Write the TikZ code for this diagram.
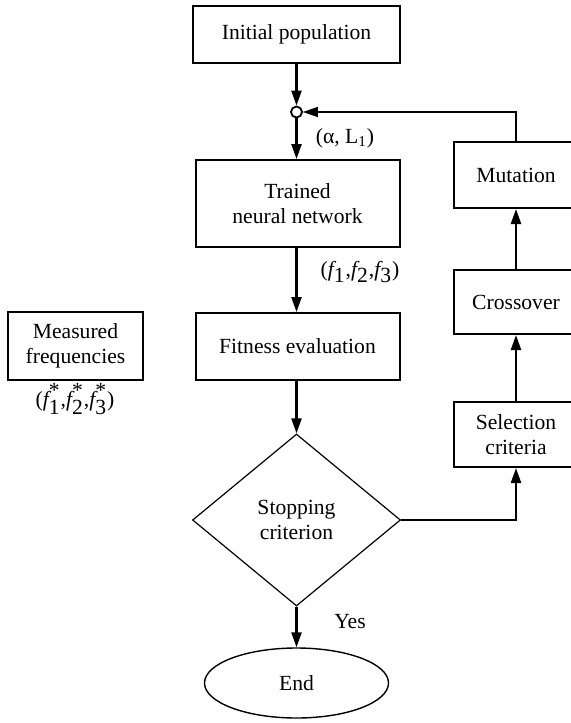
\documentclass[tikz,border=0pt]{standalone}
\usepackage{fontspec}
\setmainfont{Liberation Serif}
\usetikzlibrary{shapes.geometric,arrows.meta}
\tikzset{
  box/.style={draw, line width=1pt, fill=white, align=center, inner sep=0pt, font=\fontsize{10.8}{12.5}\selectfont},
  lbl/.style={inner sep=0pt, font=\fontsize{10.8}{12.5}\selectfont},
  arr/.style={-{Triangle[length=7.5pt,width=5pt]}, line width=1.15pt},
}
\newcommand{\fv}[2]{$\textit{f}_{\textrm{#1}}#2$}
\begin{document}
\begin{tikzpicture}[x=0.5pt,y=-0.5pt]
\useasboundingbox (0,0) rectangle (571,723);
\clip (0,0) rectangle (571,723);
\node[box, minimum width=103.5pt, minimum height=28.5pt] (init) at (296.5,34.5) {Initial population};
\node[draw, circle, line width=0.9pt, fill=white, minimum size=5.5pt, inner sep=0pt] (junc) at (296.5,112) {};
\node[box, minimum width=102pt, minimum height=43.5pt] (train) at (297.5,203.5) {Trained\\neural network};
\node[box, minimum width=102pt, minimum height=33.5pt] (fit) at (297.5,346.5) {Fitness evaluation};
\node[box, shape=diamond, line width=0.6pt, minimum width=104pt, minimum height=86pt] (stop) at (296.5,520) {Stopping\\criterion};
\node[box, shape=ellipse, line width=0.7pt, minimum width=92pt, minimum height=35pt] (end) at (296.5,683) {End};
\node[box, minimum width=67.5pt, minimum height=34pt] (meas) at (75.5,346) {Measured\\frequencies};
\node[lbl] (fstar) at (75,399) {(\fv{1}{^{\textrm{*}}},\fv{2}{^{\textrm{*}}},\fv{3}{^{\textrm{*}}})};
\node[box, minimum width=62pt, minimum height=33pt] (mut) at (516,175) {Mutation};
\node[box, minimum width=62pt, minimum height=32pt] (cross) at (516,302) {Crossover};
\node[box, minimum width=62pt, minimum height=32.5pt] (sel) at (516,434.5) {Selection\\criteria};
\node[lbl] (al) at (345,138) {(α, L\textsubscript{1})};
\node[lbl] (fl) at (360,272) {(\fv{1}{},\fv{2}{},\fv{3}{})};
\node[lbl] (yes) at (350,622) {Yes};
\draw[arr] (init.south) -- (junc.north);
\draw[arr] (junc.south) -- (junc.south |- train.north);
\draw[arr] (junc.south |- train.south) -- (junc.south |- fit.north);
\draw[arr] (junc.south |- fit.south) -- (stop.north);
\draw[arr] (stop.south) -- (end.north);
\draw[arr] (stop.east) -- (sel.south |- stop.east) -- (sel.south);
\draw[arr] (sel.north) -- (cross.south);
\draw[arr] (cross.north) -- (mut.south);
\draw[arr, line width=0.8pt] (mut.north) -- (mut.north |- junc.east) -- (junc.east);
\end{tikzpicture}
\end{document}
